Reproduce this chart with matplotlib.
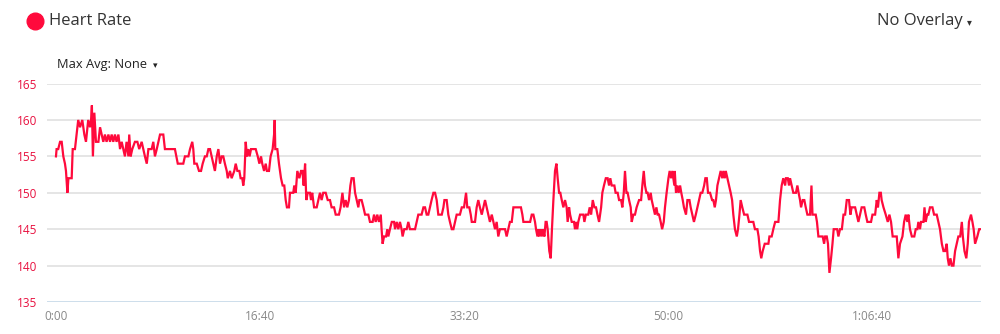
import matplotlib.pyplot as plt
from matplotlib.lines import Line2D
from matplotlib.ticker import FixedLocator

# elapsed seconds and heart rate (bpm)
t_sec = [
    0, 3, 11, 20, 28, 36, 44, 49, 56, 61, 77, 82, 93, 101, 109, 118, 129, 139, 147, 158,
    167, 172, 176, 181, 188, 196, 208, 216, 224, 232, 240, 248, 257, 265, 273, 281, 289, 297, 306, 314,
    322, 330, 338, 346, 355, 359, 366, 374, 387, 399, 408, 420, 428, 436, 445, 453, 469, 477, 485, 494,
    502, 510, 526, 534, 583, 597, 624, 632, 649, 657, 668, 673, 678, 690, 701, 711, 719,
    730, 739, 747, 755, 763, 771, 779, 788, 796, 804, 812, 820, 828, 837, 842, 853, 861, 874, 881,
    889, 899, 905, 913, 918, 923, 930, 936, 943, 949, 956, 967, 979, 989, 997, 1005, 1011, 1020, 1028, 1034,
    1044, 1052, 1062, 1069, 1072, 1075, 1085, 1093, 1103, 1111, 1119, 1126, 1132, 1142, 1147, 1163, 1168, 1175, 1183, 1193,
    1201, 1208, 1214, 1221, 1227, 1234, 1245, 1250, 1256, 1265, 1278, 1286, 1294, 1302, 1310, 1322, 1332, 1343, 1351, 1363,
    1371, 1387, 1395, 1404, 1412, 1420, 1428, 1436, 1443, 1449, 1459, 1466, 1474, 1482, 1487, 1498, 1507, 1515,
    1531, 1539, 1552, 1559, 1567, 1575, 1583, 1592, 1596, 1601, 1608, 1618, 1624, 1629, 1637, 1646, 1657, 1662, 1670, 1678,
    1686, 1694, 1699, 1707, 1719, 1727, 1735, 1760, 1768, 1776, 1792, 1801, 1809, 1817, 1825, 1833, 1841, 1850, 1858, 1866,
    1874, 1891, 1899, 1904, 1915, 1923, 1931, 1940, 1948, 1956, 1964, 1980, 1989, 2000, 2005, 2010, 2016, 2026, 2033, 2038,
    2054, 2062, 2070, 2078, 2087, 2095, 2103, 2111, 2119, 2127, 2136, 2144, 2152, 2160, 2168, 2176, 2193, 2201, 2209, 2217,
    2225, 2234, 2242, 2258, 2275,
    2279, 2286, 2291, 2324, 2332, 2340, 2348, 2353, 2360, 2364, 2369, 2376, 2381, 2387, 2394, 2400, 2405, 2410, 2418, 2425,
    2431, 2438, 2446, 2453, 2459, 2466, 2472, 2479, 2487, 2495, 2503, 2508, 2515, 2520, 2528, 2539, 2544, 2549, 2555, 2560,
    2569, 2585, 2590, 2597, 2609, 2616, 2623, 2631, 2639, 2647, 2654, 2662, 2672, 2678, 2686, 2695, 2704, 2711, 2717, 2724,
    2737, 2743, 2753, 2760, 2770, 2776, 2783, 2789, 2796, 2802, 2809, 2817, 2822, 2830, 2838, 2846, 2858, 2868, 2874, 2881,
    2887, 2894, 2900, 2907, 2915, 2920, 2928, 2936, 2943, 2949, 2956, 2964, 2971, 2979, 2985, 2993, 3002, 3008, 3015, 3021,
    3031,
    3033, 3039, 3046, 3052, 3059, 3065, 3072, 3078, 3088, 3095, 3105, 3111, 3119, 3127, 3136, 3144, 3152, 3160, 3168, 3177,
    3183, 3190, 3196, 3206, 3216, 3222, 3229, 3235, 3242, 3250, 3258, 3266, 3271, 3278, 3283, 3291, 3299, 3307, 3314, 3320,
    3328, 3337, 3343, 3350, 3356, 3364, 3373, 3389, 3397, 3418, 3426, 3438, 3444, 3451, 3457, 3464, 3474, 3492, 3497, 3508,
    3516, 3525, 3541, 3549, 3557, 3565, 3574, 3578, 3587, 3593, 3598, 3606, 3614, 3627, 3634, 3640, 3647, 3652, 3660, 3668,
    3675, 3683, 3696, 3703, 3708, 3716, 3724, 3730, 3737, 3758, 3765, 3770, 3778, 3784, 3791,
    3799, 3806, 3812, 3829, 3835, 3843, 3852, 3860, 3868, 3876, 3887, 3894, 3900, 3917, 3925, 3933, 3941, 3949, 3962, 3969,
    3977, 3995, 4002, 4015, 4023, 4029, 4036, 4043, 4047, 4056, 4067, 4077, 4085, 4093, 4101, 4121, 4129, 4137, 4149, 4157,
    4165, 4173, 4178, 4186, 4195, 4207, 4214, 4222, 4227, 4235, 4240, 4252, 4257, 4263, 4270, 4276, 4284, 4296, 4304, 4317,
    4325, 4333, 4342, 4350, 4358, 4366, 4371, 4377, 4384, 4391, 4399, 4407, 4415, 4423, 4432, 4440, 4445, 4453, 4462, 4469,
    4475, 4485, 4492, 4498, 4505, 4516, 4525, 4535,
]

hr = [
    155, 156, 156, 157, 157, 155, 154, 153, 150, 152, 152, 156, 156, 158, 160, 159, 160, 158, 157, 160,
    159, 160, 162, 155, 161, 157, 157, 159, 158, 157, 158, 157, 158, 157, 158, 157, 158, 157, 158, 156,
    157, 156, 155, 157, 155, 158, 155, 156, 157, 157, 156, 157, 156, 155, 154, 156, 156, 157, 155, 156,
    157, 158, 158, 156, 156, 154, 154, 155, 155, 156, 157, 156, 154, 154, 153, 153, 154,
    155, 155, 156, 156, 155, 154, 153, 155, 156, 154, 155, 155, 154, 153, 152, 153, 152, 153, 154,
    153, 153, 152, 152, 151, 152, 157, 155, 156, 155, 156, 156, 156, 155, 154, 155, 154, 153, 154, 153,
    153, 155, 156, 158, 160, 156, 156, 154, 152, 151, 151, 149, 148, 148, 150, 150, 151, 150, 153, 152,
    153, 153, 151, 154, 149, 150, 150, 149, 150, 148, 148, 149, 150, 149, 150, 150, 149, 149, 148, 148,
    147, 147, 148, 150, 148, 149, 148, 149, 151, 152, 152, 150, 149, 148, 149, 149, 148, 147,
    147, 146, 146, 147, 146, 147, 146, 147, 145, 143, 144, 144, 145, 144, 145, 146, 146, 145, 146, 145,
    146, 145, 144, 145, 145, 146, 145, 145, 146, 147, 147, 148, 148, 147, 147, 148, 149, 150, 150, 149,
    147, 147, 148, 149, 149, 147, 146, 145, 145, 146, 147, 147, 148, 148, 149, 150, 148, 148, 147, 146,
    146, 148, 149, 148, 147, 148, 149, 148, 147, 146, 147, 146, 145, 146, 144, 145, 145, 145, 144, 145,
    146, 146, 148, 148, 148,
    148, 147, 146, 146, 147, 147, 146, 145, 144, 145, 144, 145, 144, 145, 144, 146, 146, 145, 142, 141,
    145, 149, 153, 154, 152, 150, 150, 149, 148, 149, 148, 146, 148, 147, 146, 146, 145, 146, 145, 146,
    147, 147, 146, 147, 147, 148, 147, 149, 148, 148, 147, 146, 148, 150, 151, 152, 152, 151, 152, 151,
    151, 150, 150, 149, 149, 148, 150, 153, 150, 150, 149, 148, 146, 147, 147, 148, 149, 149, 151, 153,
    151, 150, 150, 149, 150, 149, 148, 147, 148, 147, 147, 146, 145, 146, 148, 150, 152, 153, 152, 153,
    151,
    153, 150, 151, 150, 151, 150, 149, 148, 147, 149, 149, 148, 147, 146, 147, 148, 149, 150, 150, 151,
    152, 152, 150, 150, 149, 149, 148, 149, 151, 152, 153, 152, 153, 152, 153, 152, 151, 150, 149, 147,
    145, 144, 145, 147, 149, 148, 147, 147, 146, 146, 145, 145, 144, 142, 141, 142, 143, 143, 144, 144,
    145, 146, 146, 149, 151, 152, 151, 152, 152, 151, 152, 151, 150, 150, 151, 150, 149, 148, 149, 149,
    148, 147, 147, 151, 147, 147, 147, 146, 144, 144, 143, 144, 144, 143, 139,
    141, 143, 145, 145, 144, 145, 145, 147, 147, 149, 149, 147, 148, 148, 147, 146, 147, 148, 148, 147,
    146, 146, 147, 147, 149, 148, 150, 150, 149, 148, 147, 146, 147, 146, 144, 144, 141, 143, 144, 146,
    147, 146, 147, 145, 144, 144, 145, 145, 146, 145, 146, 146, 148, 146, 147, 147, 148, 148, 147, 147,
    146, 145, 143, 142, 142, 143, 141, 140, 141, 140, 140, 142, 143, 144, 144, 146, 144, 142, 141, 143,
    146, 147, 146, 145, 143, 144, 145, 145,
]

y_ticks = [135, 140, 145, 150, 155, 160, 165]
x_ticks = [0, 1000, 2000, 3000, 4000]
x_labels = ['0:00', '16:40', '33:20', '50:00', '1:06:40']

RED = '#ff0a3c'
FONT = ['Open Sans', 'DejaVu Sans']
plt.rcParams['font.family'] = FONT

fig = plt.figure(figsize=(10, 3.34), dpi=100)
ax = fig.add_axes([0.047, 0.0958, 0.934, 0.654])

ax.plot(t_sec, hr, color=RED, lw=1.6, solid_joinstyle='miter', zorder=3)

ax.set_xlim(-44, 4534)
ax.set_ylim(135, 165)
ax.yaxis.set_major_locator(FixedLocator(y_ticks))
ax.set_xticks(x_ticks)
ax.set_xticklabels(x_labels)

for s in ax.spines.values():
    s.set_visible(False)
for v in y_ticks[1:]:
    ax.axhline(v, color='#e0e0e0', lw=1.2, zorder=1)
ax.axhline(135, color='#c5d8e8', lw=1.2, zorder=1)

ax.tick_params(axis='both', length=0)
ax.tick_params(axis='y', labelcolor='#e8103f', labelsize=8.5, pad=7)
ax.tick_params(axis='x', labelcolor='#888888', labelsize=8.5, pad=6)

# header
fig.add_artist(Line2D([0.035], [0.937], marker='o', markersize=12, color=RED,
                      transform=fig.transFigure))
fig.text(0.049, 0.937, 'Heart Rate', fontsize=12, color='#333333', va='center', ha='left')
fig.text(0.963, 0.937, 'No Overlay', fontsize=12, color='#333333', va='center', ha='right')
fig.text(0.969, 0.933, '\u25be', fontsize=7, color='#333333', va='center', ha='center')
fig.text(0.057, 0.808, 'Max Avg: None', fontsize=9.3, color='#222222', va='center', ha='left')
fig.text(0.155, 0.805, '\u25be', fontsize=6.5, color='#222222', va='center', ha='center')

fig.savefig('out.png', dpi=100)
